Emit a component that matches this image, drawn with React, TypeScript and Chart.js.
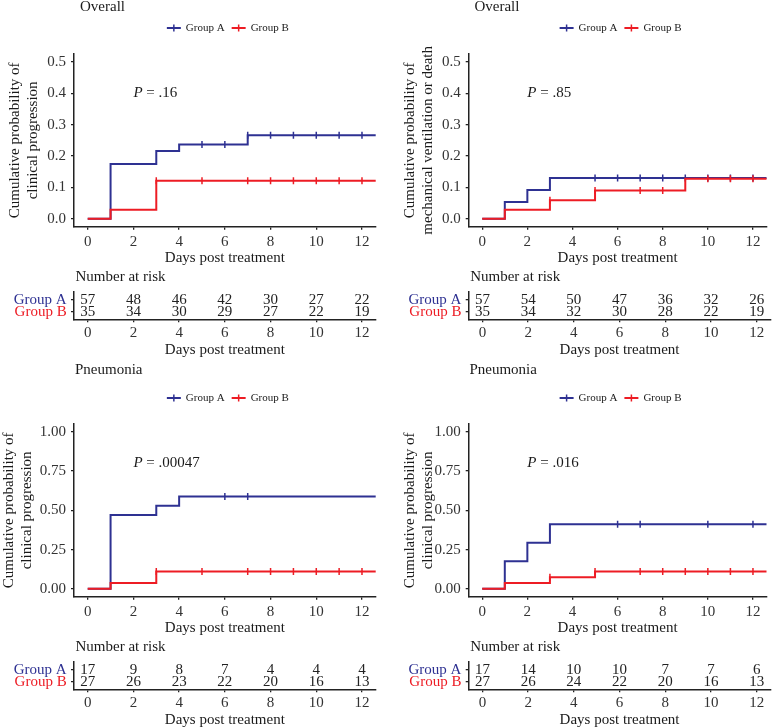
import React, { useEffect, useRef } from 'react';
import { Chart, registerables } from 'chart.js';

Chart.register(...registerables);

// ---------------- data ----------------
const FONT = '"Liberation Serif", "Times New Roman", serif';
const COLOR_A = '#2E3192';
const COLOR_B = '#ED1C24';
const groupNames = ['Group A', 'Group B'];
const dayTicks = [0, 2, 4, 6, 8, 10, 12];
const riskDays = [0, 2, 4, 6, 8, 10, 12];
const xTitle = 'Days post treatment';
const riskTitle = 'Number at risk';
const lastFollowUp = 13;

// Panel 1: Overall – clinical progression
const p1Title = 'Overall';
const p1YLabel = ['Cumulative probability of', 'clinical progression'];
const p1PValue = '.16';
const p1YTicks = [0, 0.1, 0.2, 0.3, 0.4, 0.5];
const p1TimesA = [0, 1, 3, 4, 7];
const p1CumA = [0, 0.175, 0.216, 0.237, 0.266];
const p1CensorA = [5, 6, 7, 8, 9, 10, 11, 12];
const p1TimesB = [0, 1, 3];
const p1CumB = [0, 0.029, 0.121];
const p1CensorB = [3, 5, 7, 8, 9, 10, 11, 12];
const p1RiskA = [57, 48, 46, 42, 30, 27, 22];
const p1RiskB = [35, 34, 30, 29, 27, 22, 19];

// Panel 2: Overall – mechanical ventilation or death
const p2Title = 'Overall';
const p2YLabel = ['Cumulative probability of', 'mechanical ventilation or death'];
const p2PValue = '.85';
const p2YTicks = [0, 0.1, 0.2, 0.3, 0.4, 0.5];
const p2TimesA = [0, 1, 2, 3];
const p2CumA = [0, 0.054, 0.092, 0.13];
const p2CensorA = [5, 6, 7, 8, 9, 10, 11, 12];
const p2TimesB = [0, 1, 3, 5, 9];
const p2CumB = [0, 0.029, 0.059, 0.09, 0.128];
const p2CensorB = [3, 5, 7, 8, 10, 11, 12];
const p2RiskA = [57, 54, 50, 47, 36, 32, 26];
const p2RiskB = [35, 34, 32, 30, 28, 22, 19];

// Panel 3: Pneumonia – clinical progression
const p3Title = 'Pneumonia';
const p3YLabel = ['Cumulative probability of', 'clinical progression'];
const p3PValue = '.00047';
const p3YTicks = [0, 0.25, 0.5, 0.75, 1];
const p3TimesA = [0, 1, 3, 4];
const p3CumA = [0, 0.47, 0.53, 0.588];
const p3CensorA = [6, 7];
const p3TimesB = [0, 1, 3];
const p3CumB = [0, 0.037, 0.111];
const p3CensorB = [3, 5, 7, 8, 9, 10, 11, 12];
const p3RiskA = [17, 9, 8, 7, 4, 4, 4];
const p3RiskB = [27, 26, 23, 22, 20, 16, 13];

// Panel 4: Pneumonia – clinical progression (second outcome)
const p4Title = 'Pneumonia';
const p4YLabel = ['Cumulative probability of', 'clinical progression'];
const p4PValue = '.016';
const p4YTicks = [0, 0.25, 0.5, 0.75, 1];
const p4TimesA = [0, 1, 2, 3];
const p4CumA = [0, 0.176, 0.294, 0.412];
const p4CensorA = [6, 7, 10, 12];
const p4TimesB = [0, 1, 3, 5];
const p4CumB = [0, 0.037, 0.074, 0.111];
const p4CensorB = [3, 5, 7, 8, 9, 10, 11, 12];
const p4RiskA = [17, 14, 10, 10, 7, 7, 6];
const p4RiskB = [27, 26, 24, 22, 20, 16, 13];

// ---------------- helpers ----------------
function curvePoints(times: number[], cum: number[]) {
  const pts = times.map((t, i) => ({ x: t, y: cum[i] }));
  pts.push({ x: lastFollowUp, y: cum[cum.length - 1] });
  return pts;
}
function stepAt(times: number[], cum: number[], t: number) {
  let v = cum[0];
  for (let i = 0; i < times.length; i++) if (times[i] <= t) v = cum[i];
  return v;
}
function censorPoints(times: number[], cum: number[], cens: number[]) {
  return cens.map((t) => ({ x: t, y: stepAt(times, cum, t) }));
}

const panels = [
  {
    title: p1Title, yLabel: p1YLabel, pValue: p1PValue, yTicks: p1YTicks,
    A: { times: p1TimesA, cum: p1CumA, cens: p1CensorA, risk: p1RiskA },
    B: { times: p1TimesB, cum: p1CumB, cens: p1CensorB, risk: p1RiskB },
  },
  {
    title: p2Title, yLabel: p2YLabel, pValue: p2PValue, yTicks: p2YTicks,
    A: { times: p2TimesA, cum: p2CumA, cens: p2CensorA, risk: p2RiskA },
    B: { times: p2TimesB, cum: p2CumB, cens: p2CensorB, risk: p2RiskB },
  },
  {
    title: p3Title, yLabel: p3YLabel, pValue: p3PValue, yTicks: p3YTicks,
    A: { times: p3TimesA, cum: p3CumA, cens: p3CensorA, risk: p3RiskA },
    B: { times: p3TimesB, cum: p3CumB, cens: p3CensorB, risk: p3RiskB },
  },
  {
    title: p4Title, yLabel: p4YLabel, pValue: p4PValue, yTicks: p4YTicks,
    A: { times: p4TimesA, cum: p4CumA, cens: p4CensorA, risk: p4RiskA },
    B: { times: p4TimesB, cum: p4CumB, cens: p4CensorB, risk: p4RiskB },
  },
];

// layout (positions only)
const layouts = [
  { x: 0, y: 0, axisLeft: 74, yTitlePad: 6, titleDx: 6, titleY: 19.5 },
  { x: 386, y: 0, axisLeft: 82.7, yTitlePad: 15, titleDx: 5.7, titleY: 19.5 },
  { x: 0, y: 370, axisLeft: 74, yTitlePad: 0.5, titleDx: 1, titleY: 12 },
  { x: 386, y: 370, axisLeft: 82.7, yTitlePad: 15, titleDx: 0.7, titleY: 12 },
];

const PLOT_W = 301.7;
const TEXT = '#1a1a1a';
const TICK_TEXT = '#333';
const AXIS = '#222';

// ---------------- plugins ----------------
const kmDecor = {
  id: 'kmDecor',
  afterDraw(chart: any, _args: any, opts: any) {
    const { ctx, chartArea, scales } = chart;
    ctx.save();
    ctx.textBaseline = 'middle';
    ctx.textAlign = 'left';
    // title
    ctx.font = `15px ${FONT}`;
    ctx.fillStyle = TEXT;
    ctx.fillText(opts.title, chartArea.left + opts.titleDx, opts.titleY);
    // p-value
    const px = scales.x.getPixelForValue(opts.pX);
    const py = scales.y.getPixelForValue(opts.pY);
    ctx.font = `italic 15px ${FONT}`;
    ctx.fillText('P', px, py);
    const pw = ctx.measureText('P').width;
    ctx.font = `15px ${FONT}`;
    ctx.fillText(' = ' + opts.pValue, px + pw, py);
    // legend
    const items = chart.data.datasets.filter((d: any) => d.legendEntry);
    items.sort((a: any, b: any) => a.legendEntry - b.legendEntry);
    ctx.font = `11px ${FONT}`;
    const sym = 14, gapSym = 5, gapItem = 7;
    const widths = items.map((d: any) => ctx.measureText(d.label).width);
    let total = 0;
    widths.forEach((w: number) => (total += sym + gapSym + w));
    total += gapItem * (items.length - 1);
    let x = (chartArea.left + chartArea.right) / 2 + 3 - total / 2;
    const ly = opts.legendY;
    items.forEach((d: any, i: number) => {
      ctx.strokeStyle = d.borderColor;
      ctx.lineWidth = 2;
      ctx.beginPath();
      ctx.moveTo(x, ly);
      ctx.lineTo(x + sym, ly);
      ctx.stroke();
      ctx.lineWidth = 1.5;
      ctx.beginPath();
      ctx.moveTo(x + sym / 2, ly - 3.5);
      ctx.lineTo(x + sym / 2, ly + 3.5);
      ctx.stroke();
      ctx.fillStyle = TEXT;
      ctx.fillText(d.label, x + sym + gapSym, ly + 0.5);
      x += sym + gapSym + widths[i] + gapItem;
    });
    ctx.restore();
  },
};

const riskDecor = {
  id: 'riskDecor',
  afterDatasetsDraw(chart: any, _args: any, opts: any) {
    const { ctx, chartArea } = chart;
    ctx.save();
    ctx.textBaseline = 'middle';
    ctx.font = `15px ${FONT}`;
    ctx.fillStyle = TEXT;
    ctx.textAlign = 'left';
    ctx.fillText(opts.title, chartArea.left + 1.5, opts.titleY);
    ctx.textAlign = 'center';
    ctx.fillStyle = '#222';
    chart.data.datasets.forEach((ds: any, di: number) => {
      const meta = chart.getDatasetMeta(di);
      meta.data.forEach((el: any, i: number) => {
        ctx.fillText(String(ds.data[i].n), el.x, el.y + 0.5);
      });
    });
    ctx.restore();
  },
};

function commonX(heightFn: (s: any) => void, tickPad: number, titlePadBottom: number) {
  return {
    type: 'linear',
    min: -0.6,
    max: 12.6,
    afterBuildTicks: (s: any) => {
      s.ticks = dayTicks.map((v) => ({ value: v }));
    },
    afterFit: heightFn,
    ticks: {
      font: { family: FONT, size: 15 },
      color: TICK_TEXT,
      padding: tickPad,
      maxRotation: 0,
      autoSkip: false,
      callback: (v: any) => String(v),
    },
    grid: { drawOnChartArea: false, drawTicks: true, tickLength: 3, color: AXIS, lineWidth: 1.3 },
    border: { display: true, color: AXIS, width: 1.5 },
    title: {
      display: true,
      text: xTitle,
      font: { family: FONT, size: 15, lineHeight: 1.2 },
      color: TEXT,
      padding: { top: 0, bottom: titlePadBottom },
    },
  };
}

// ---------------- components ----------------
function KMChart({ panel, lay }: any) {
  const ref = useRef<HTMLCanvasElement>(null);
  useEffect(() => {
    const W = 386, H = 282;
    const areaTop = 66, areaBottom = 238.7;
    const areaRight = lay.axisLeft + PLOT_W;
    const yMax = panel.yTicks[panel.yTicks.length - 1];
    const pad = yMax * 0.05;
    const decimals = yMax === 1 ? 2 : 1;
    const chart = new Chart(ref.current as HTMLCanvasElement, {
      type: 'line',
      data: {
        datasets: [
          {
            type: 'line', label: groupNames[0], legendEntry: 1,
            data: curvePoints(panel.A.times, panel.A.cum),
            borderColor: COLOR_A, backgroundColor: COLOR_A, borderWidth: 2,
            stepped: 'before', pointRadius: 0, fill: false, order: 4,
          },
          {
            type: 'scatter', label: groupNames[0] + ' censored',
            data: censorPoints(panel.A.times, panel.A.cum, panel.A.cens),
            borderColor: COLOR_A, backgroundColor: COLOR_A,
            pointStyle: 'line', rotation: 90, pointRadius: 3.5, pointBorderWidth: 1.5,
            showLine: false, order: 3,
          },
          {
            type: 'line', label: groupNames[1], legendEntry: 2,
            data: curvePoints(panel.B.times, panel.B.cum),
            borderColor: COLOR_B, backgroundColor: COLOR_B, borderWidth: 2,
            stepped: 'before', pointRadius: 0, fill: false, order: 2,
          },
          {
            type: 'scatter', label: groupNames[1] + ' censored',
            data: censorPoints(panel.B.times, panel.B.cum, panel.B.cens),
            borderColor: COLOR_B, backgroundColor: COLOR_B,
            pointStyle: 'line', rotation: 90, pointRadius: 3.5, pointBorderWidth: 1.5,
            showLine: false, order: 1,
          },
        ] as any,
      },
      options: {
        responsive: false,
        maintainAspectRatio: false,
        animation: false,
        devicePixelRatio: 1,
        events: [],
        layout: { padding: { top: areaTop, right: W - areaRight, left: 0, bottom: 0 } },
        plugins: {
          legend: { display: false },
          tooltip: { enabled: false },
          title: { display: false },
          kmDecor: {
            title: panel.title, titleDx: lay.titleDx, titleY: lay.titleY,
            pValue: panel.pValue, pX: 2, pY: yMax * 0.8, legendY: 40,
          },
        } as any,
        scales: {
          x: commonX((s: any) => { s.height = H - areaBottom; }, 3, 2.7) as any,
          y: {
            type: 'linear',
            min: -pad,
            max: yMax + pad,
            afterBuildTicks: (s: any) => {
              s.ticks = panel.yTicks.map((v: number) => ({ value: v }));
            },
            afterFit: (s: any) => { s.width = lay.axisLeft; },
            ticks: {
              font: { family: FONT, size: 15 },
              color: TICK_TEXT,
              padding: 5,
              callback: (v: any) => Number(v).toFixed(decimals),
            },
            grid: { drawOnChartArea: false, drawTicks: true, tickLength: 3, color: AXIS, lineWidth: 1.3 },
            border: { display: true, color: AXIS, width: 1.5 },
            title: {
              display: true,
              text: panel.yLabel,
              font: { family: FONT, size: 15, lineHeight: 1.2 },
              color: TEXT,
              padding: { top: lay.yTitlePad, bottom: 0 },
            },
          } as any,
        },
      },
      plugins: [kmDecor],
    });
    return () => chart.destroy();
  }, []);
  return (
    <canvas
      ref={ref}
      width={386}
      height={282}
      style={{ position: 'absolute', left: lay.x, top: lay.y - 12, width: 386, height: 282 }}
    />
  );
}

function RiskTable({ panel, lay }: any) {
  const ref = useRef<HTMLCanvasElement>(null);
  useEffect(() => {
    const W = 386, H = 90;
    const areaTop = 21.7, areaBottom = 49.3;
    const areaRight = lay.axisLeft + PLOT_W;
    const chart = new Chart(ref.current as HTMLCanvasElement, {
      type: 'scatter',
      data: {
        datasets: [
          {
            label: groupNames[0],
            data: riskDays.map((d, i) => ({ x: d, y: 2, n: panel.A.risk[i] })),
            pointRadius: 0,
          },
          {
            label: groupNames[1],
            data: riskDays.map((d, i) => ({ x: d, y: 1, n: panel.B.risk[i] })),
            pointRadius: 0,
          },
        ] as any,
      },
      options: {
        responsive: false,
        maintainAspectRatio: false,
        animation: false,
        devicePixelRatio: 1,
        events: [],
        layout: { padding: { top: areaTop, right: W - areaRight, left: 0, bottom: 0 } },
        plugins: {
          legend: { display: false },
          tooltip: { enabled: false },
          title: { display: false },
          riskDecor: { title: riskTitle, titleY: 7.5 },
        } as any,
        scales: {
          x: commonX((s: any) => { s.height = H - areaBottom; }, 2, 1) as any,
          y: {
            type: 'linear',
            display: true,
            min: 0.35,
            max: 2.71,
            afterBuildTicks: (s: any) => {
              s.ticks = [{ value: 2 }, { value: 1 }];
            },
            afterFit: (s: any) => { s.width = lay.axisLeft; },
            ticks: {
              font: { family: FONT, size: 15 },
              color: (c: any) => (c.tick && c.tick.value === 2 ? COLOR_A : COLOR_B),
              padding: 4.3,
              callback: (v: any) => (v === 2 ? groupNames[0] : groupNames[1]),
            },
            grid: { drawOnChartArea: false, drawTicks: true, tickLength: 3, color: AXIS, lineWidth: 1.3 },
            border: { display: true, color: AXIS, width: 1.5 },
          } as any,
        },
      },
      plugins: [riskDecor],
    });
    return () => chart.destroy();
  }, []);
  return (
    <canvas
      ref={ref}
      width={386}
      height={90}
      style={{ position: 'absolute', left: lay.x, top: lay.y + 270, width: 386, height: 90 }}
    />
  );
}

export default function App() {
  return (
    <div
      style={{
        position: 'absolute',
        left: 0,
        top: 0,
        width: 772,
        height: 728,
        overflow: 'hidden',
        background: '#ffffff',
      }}
    >
      {panels.map((p, i) => (
        <React.Fragment key={i}>
          <KMChart panel={p} lay={layouts[i]} />
          <RiskTable panel={p} lay={layouts[i]} />
        </React.Fragment>
      ))}
    </div>
  );
}
